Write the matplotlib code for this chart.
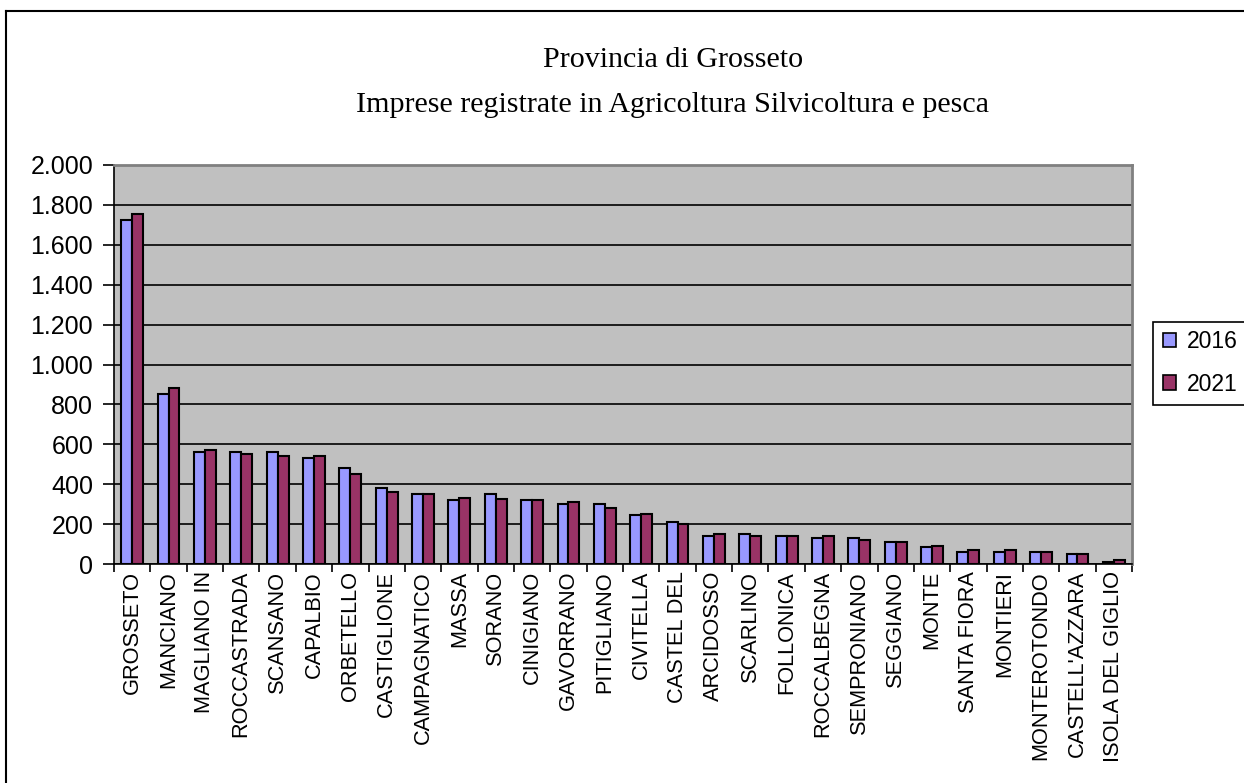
import matplotlib.pyplot as plt
import numpy as np
from matplotlib.patches import Rectangle
from matplotlib.lines import Line2D

comuni = ["GROSSETO", "MANCIANO", "MAGLIANO IN", "ROCCASTRADA", "SCANSANO",
          "CAPALBIO", "ORBETELLO", "CASTIGLIONE", "CAMPAGNATICO", "MASSA",
          "SORANO", "CINIGIANO", "GAVORRANO", "PITIGLIANO", "CIVITELLA",
          "CASTEL DEL", "ARCIDOSSO", "SCARLINO", "FOLLONICA", "ROCCALBEGNA",
          "SEMPRONIANO", "SEGGIANO", "MONTE", "SANTA FIORA", "MONTIERI",
          "MONTEROTONDO", "CASTELL'AZZARA", "ISOLA DEL GIGLIO"]
v2016 = [1725, 852, 563, 563, 563, 533, 483, 383, 353, 323,
         352, 322, 302, 302, 244, 212, 142, 152, 142, 132,
         132, 112, 84, 62, 62, 62, 52, 12]
v2021 = [1755, 884, 573, 553, 543, 543, 453, 363, 353, 333,
         324, 322, 312, 282, 252, 202, 152, 142, 142, 142,
         122, 112, 92, 72, 72, 62, 52, 20]
anni = ["2016", "2021"]
colori = ["#9999FF", "#993366"]
yticks = list(range(0, 2001, 200))

W, H = 1244, 783
fig = plt.figure(figsize=(W / 100, H / 100), dpi=100)
plt.rcParams['font.family'] = ['Liberation Sans', 'DejaVu Sans']

ax = fig.add_axes([114 / W, 1 - 564 / H, 1018 / W, 399 / H])
ax.set_facecolor("#C0C0C0")

x = np.arange(len(comuni))
bw = 0.3
ax.bar(x - bw / 2, v2016, bw, color=colori[0], edgecolor="black", linewidth=1.5, zorder=3)
ax.bar(x + bw / 2, v2021, bw, color=colori[1], edgecolor="black", linewidth=1.5, zorder=3)

ax.set_xlim(-0.5, len(comuni) - 0.5)
ax.set_ylim(0, 2000)
ax.set_yticks(yticks)
ax.set_yticklabels([f"{v:,}".replace(",", ".") for v in yticks], fontsize=18)
ax.yaxis.grid(True, color="black", linewidth=1.2, zorder=1)
ax.tick_params(axis="y", direction="out", length=8, width=1.2, pad=7)

ax.set_xticks(x)
ax.set_xticklabels(comuni, rotation=90, fontsize=15.7, va="top")
ax.tick_params(axis="x", length=0, pad=5)
ax.set_xticks(np.arange(-0.5, len(comuni), 1), minor=True)
ax.tick_params(axis="x", which="minor", direction="out", length=6, width=1.2)

for s in ["top", "right"]:
    ax.spines[s].set_color("#808080")
    ax.spines[s].set_linewidth(2)
for s in ["left", "bottom"]:
    ax.spines[s].set_color("black")
    ax.spines[s].set_linewidth(1.2)

# titolo
fig.text(673 / W, 1 - 60 / H, "Provincia di Grosseto", ha="center", va="center",
         fontsize=21.6, family="Liberation Serif")
fig.text(673 / W, 1 - 105 / H, "Imprese registrate in Agricoltura Silvicoltura e pesca",
         ha="center", va="center", fontsize=21.6, family="Liberation Serif")

# cornice esterna (solo sinistra e alto visibili)
fig.add_artist(Line2D([6 / W, 6 / W], [0, 1 - 11 / H], color="black", lw=1.5,
                      transform=fig.transFigure))
fig.add_artist(Line2D([6 / W, 1], [1 - 11 / H, 1 - 11 / H], color="black", lw=1.5,
                      transform=fig.transFigure))

# legenda
fig.add_artist(Rectangle((1153 / W, 1 - 405 / H), 120 / W, 83 / H, facecolor="white",
                         edgecolor="black", lw=1.2, transform=fig.transFigure))
handles = [Rectangle((0, 0), 1, 1, facecolor=c, edgecolor="black", lw=1.2) for c in colori]
fig.legend(handles, anni, loc="center left", bbox_to_anchor=(1158 / W, 1 - 363 / H),
           frameon=False, fontsize=16.5, handlelength=0.6, handleheight=0.6,
           handletextpad=0.45, labelspacing=0.85, borderaxespad=0, borderpad=0.2)

plt.savefig("out.png", dpi=100)
